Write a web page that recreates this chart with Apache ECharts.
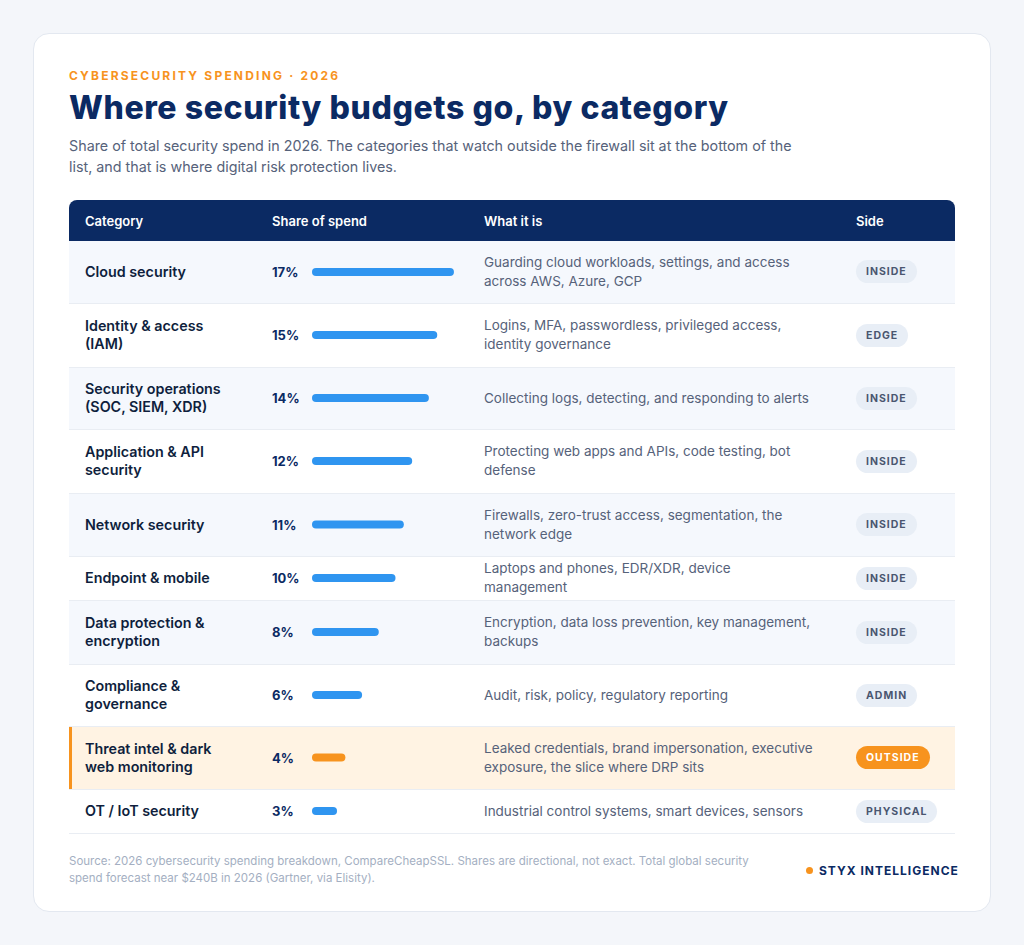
<!DOCTYPE html>
<html>
<head>
<meta charset="utf-8">
<script src="https://cdn.jsdelivr.net/npm/echarts@6/dist/echarts.min.js"></script>
<style>
  * { box-sizing: border-box; }
  body { margin: 0; background: #f4f6fa; font-family: Inter, "Noto Sans", sans-serif; }
  .card { position: absolute; left: 33px; top: 33px; width: 958px; height: 879px; background: #fff;
          border: 1px solid #e3e8f0; border-radius: 16px; }
  .kicker { position: absolute; left: 69px; top: 68px; color: #f7931e; font-size: 12px; font-weight: 700; letter-spacing: 2.2px; }
  .title { position: absolute; left: 69px; top: 88px; color: #0b2a63; font-size: 32px; font-weight: 800; letter-spacing: 0.6px; }
  .sub { position: absolute; left: 69px; top: 135px; width: 740px; color: #56627a; font-size: 14.3px; line-height: 21px; }
  table { position: absolute; left: 69px; top: 200px; width: 886px; border-collapse: collapse; table-layout: fixed; }
  th { background: #0b2a63; color: #fff; font-size: 13px; font-weight: 600; text-align: left; height: 41px; padding: 0 0 0 16px; }
  th:first-child { border-top-left-radius: 8px; }
  th:last-child { border-top-right-radius: 8px; }
  td { font-size: 14px; padding: 0 0 0 16px; border-bottom: 1px solid #e9edf3; vertical-align: middle; }
  td.cat { color: #0f1f3d; font-weight: 600; font-size: 14.3px; line-height: 18px; padding-right: 30px; }
  td.pct { color: #0b2a63; font-weight: 700; font-size: 13px; }
  td.desc { color: #56627a; font-size: 13.5px; line-height: 19px; padding-right: 24px; }
  tr.alt td { background: #f5f8fd; }
  tr.hl td { background: #fff3e3; }
  tr.hl td:first-child { box-shadow: inset 3px 0 0 #f7931e; }
  .pill { display: inline-block; background: #e8eef6; color: #4a5670; font-size: 10.5px; font-weight: 700;
          letter-spacing: 1px; padding: 5px 10px; border-radius: 12px; }
  .pill.out { background: #f7931e; color: #fff; }
  .foot { position: absolute; left: 69px; top: 853px; width: 700px; color: #a4afc2; font-size: 11.5px; line-height: 17px; }
  .brand { position: absolute; left: 806px; top: 863px; color: #0b2a63; font-size: 12px; font-weight: 700; letter-spacing: 1px; }
  .brand b { display: inline-block; width: 7px; height: 7px; background: #f7931e; border-radius: 50%; margin-right: 6px; vertical-align: 1px; }
  #bars { position: absolute; left: 312px; top: 241px; width: 180px; height: 592px; }
</style>
</head>
<body>
<div class="card"></div>
<div class="kicker">CYBERSECURITY SPENDING · 2026</div>
<div class="title">Where security budgets go, by category</div>
<div class="sub">Share of total security spend in 2026. The categories that watch outside the firewall sit at the bottom of the list, and that is where digital risk protection lives.</div>
<table id="tbl">
  <colgroup><col style="width:187px"><col style="width:212px"><col style="width:372px"><col style="width:115px"></colgroup>
  <thead><tr><th>Category</th><th>Share of spend</th><th>What it is</th><th>Side</th></tr></thead>
  <tbody></tbody>
</table>
<div id="bars"></div>
<div class="foot">Source: 2026 cybersecurity spending breakdown, CompareCheapSSL. Shares are directional, not exact. Total global security spend forecast near $240B in 2026 (Gartner, via Elisity).</div>
<div class="brand"><b></b>STYX INTELLIGENCE</div>
<script>
const categories = ["Cloud security", "Identity & access (IAM)", "Security operations (SOC, SIEM, XDR)",
  "Application & API security", "Network security", "Endpoint & mobile", "Data protection & encryption",
  "Compliance & governance", "Threat intel & dark web monitoring", "OT / IoT security"];
const shares = [17, 15, 14, 12, 11, 10, 8, 6, 4, 3];
const descriptions = [
  "Guarding cloud workloads, settings, and access across AWS, Azure, GCP",
  "Logins, MFA, passwordless, privileged access, identity governance",
  "Collecting logs, detecting, and responding to alerts",
  "Protecting web apps and APIs, code testing, bot defense",
  "Firewalls, zero-trust access, segmentation, the network edge",
  "Laptops and phones, EDR/XDR, device management",
  "Encryption, data loss prevention, key management, backups",
  "Audit, risk, policy, regulatory reporting",
  "Leaked credentials, brand impersonation, executive exposure, the slice where DRP sits",
  "Industrial control systems, smart devices, sensors"];
const sides = ["INSIDE", "EDGE", "INSIDE", "INSIDE", "INSIDE", "INSIDE", "INSIDE", "ADMIN", "OUTSIDE", "PHYSICAL"];
const rowHeights = [62, 64, 62, 64, 63, 44, 64, 62, 63, 44];
const highlight = 8;

const tbody = document.querySelector('#tbl tbody');
categories.forEach((c, i) => {
  const tr = document.createElement('tr');
  if (i === highlight) tr.className = 'hl';
  else if (i % 2 === 0) tr.className = 'alt';
  tr.style.height = rowHeights[i] + 'px';
  tr.innerHTML = `<td class="cat">${c.replace('&', '&amp;')}</td><td class="pct">${shares[i]}%</td>` +
    `<td class="desc">${descriptions[i]}</td><td><span class="pill${i === highlight ? ' out' : ''}">${sides[i]}</span></td>`;
  tbody.appendChild(tr);
});

// one tiny grid per table row so each bar sits centred in its row
const chart = echarts.init(document.getElementById('bars'));
const grids = [], xAxes = [], yAxes = [], series = [];
let rowTop = 0;
categories.forEach((c, i) => {
  const h = rowHeights[i];
  grids.push({ left: 0, width: 167, top: rowTop + h / 2 - 5, height: 10 });
  xAxes.push({ type: 'value', gridIndex: i, min: 0, max: 20, show: false });
  yAxes.push({ type: 'category', gridIndex: i, data: [c], show: false });
  series.push({ type: 'bar', xAxisIndex: i, yAxisIndex: i, data: [shares[i]], barWidth: 8,
    itemStyle: { color: i === highlight ? '#f7931e' : '#2f95f0', borderRadius: 4 }, silent: true });
  rowTop += h;
});
chart.setOption({ animation: false, grid: grids, xAxis: xAxes, yAxis: yAxes, series });
</script>
</body>
</html>
